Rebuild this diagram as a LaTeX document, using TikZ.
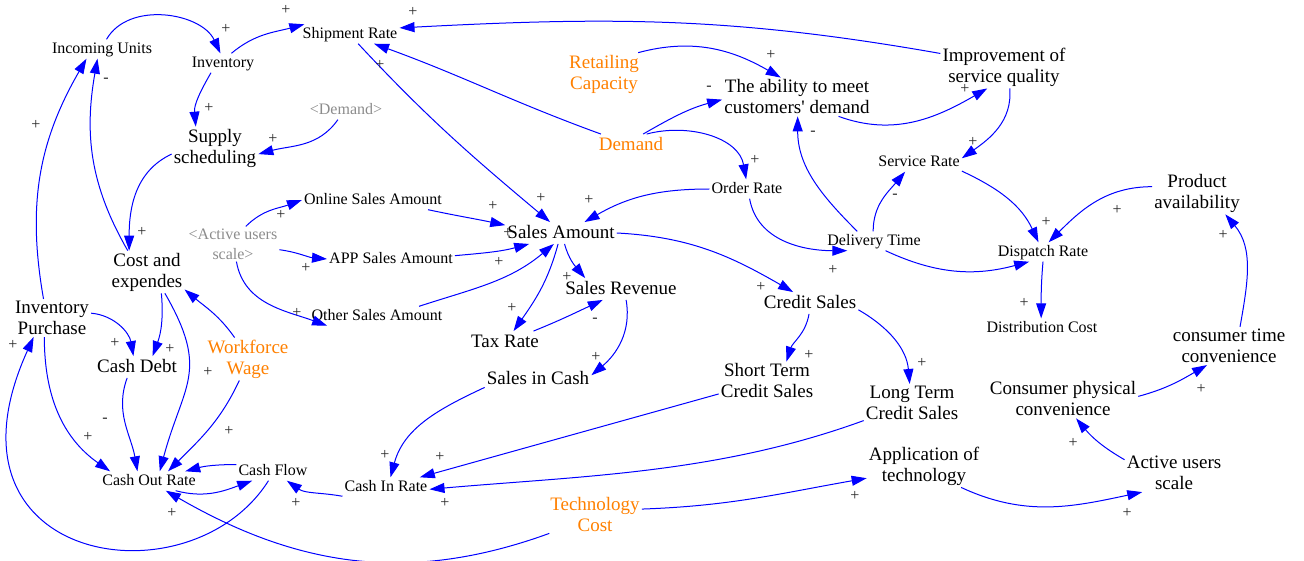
\documentclass[tikz,border=0pt]{standalone}
\usepackage{fontspec}
\setmainfont{Liberation Serif}
\usetikzlibrary{arrows.meta}
\definecolor{linkblue}{RGB}{0,0,255}
\definecolor{exocol}{RGB}{255,128,0}
\definecolor{shadowcol}{RGB}{140,140,140}
\definecolor{signcol}{RGB}{40,40,40}

\begin{document}
\begin{tikzpicture}[x=1pt,y=1pt,
  fs/.style={font=\fontsize{16}{20}\selectfont},
  fl/.style={font=\fontsize{19}{21}\selectfont},
  ones/.style={fs,inner sep=2pt,text height=12pt,text depth=3pt},
  onel/.style={fl,inner sep=2pt,text height=14pt,text depth=3.5pt},
  twos/.style={fs,inner sep=2pt,align=center},
  twol/.style={fl,inner sep=2pt,align=center},
  exo/.style={text=exocol},
  shadowvar/.style={text=shadowcol},
  link/.style={draw=linkblue,line width=1pt,-{Triangle[length=15pt,width=10pt]}},
  pol/.style={font=\fontsize{16}{16}\selectfont,text=signcol,inner sep=0pt}
]
\useasboundingbox (0,0) rectangle (1304,-561);

% ---------- variables ----------
\node[ones] (inc) at (102,-49) {Incoming Units};
\node[ones] (inv) at (223,-63) {Inventory};
\node[ones] (ship) at (350,-34) {Shipment Rate};
\node[ones,shadowvar] (dem2) at (346,-110) {<Demand>};
\node[twol] (sup) at (215,-148) {Supply\\scheduling};
\node[twol,exo] (ret) at (604,-74) {Retailing\\Capacity};
\node[twol] (abil) at (797,-97) {The ability to meet\\customers\textquotesingle{} demand};
\node[twol] (imp) at (1004,-67) {Improvement of\\service quality};
\node[onel,exo] (dem) at (631,-145) {Demand};
\node[ones] (serv) at (919,-162) {Service Rate};
\node[ones] (ord) at (747,-189) {Order Rate};
\node[twol] (prod) at (1197,-193) {Product\\availability};
\node[ones] (online) at (373,-200) {Online Sales Amount};
\node[twos,shadowvar] (act2) at (233,-244) {<Active users\\scale>};
\node[onel] (sa) at (561,-233) {Sales Amount};
\node[ones] (dt) at (874,-241) {Delivery Time};
\node[ones] (disp) at (1043,-252) {Dispatch Rate};
\node[twol] (cost) at (147,-272) {Cost and\\expendes};
\node[ones] (app) at (391,-259) {APP Sales Amount};
\node[onel] (srev) at (621,-289) {Sales Revenue};
\node[onel] (cs) at (810,-303) {Credit Sales};
\node[twol] (ip) at (52,-318) {Inventory\\Purchase};
\node[ones] (other) at (377,-316) {Other Sales Amount};
\node[ones] (dc) at (1042,-328) {Distribution Cost};
\node[twol] (ctc) at (1229,-346) {consumer time\\convenience};
\node[onel] (tax) at (505,-342) {Tax Rate};
\node[twol,exo] (ww) at (248,-359) {Workforce\\Wage};
\node[onel] (cd) at (137,-367) {Cash Debt};
\node[twol] (st) at (767,-381) {Short Term\\Credit Sales};
\node[twol] (lt) at (912,-403) {Long Term\\Credit Sales};
\node[onel] (sic) at (538,-379) {Sales in Cash};
\node[twol] (cpc) at (1063,-399) {Consumer physical\\convenience};
\node[twol] (aot) at (924,-466) {Application of\\technology};
\node[twol] (aus) at (1174,-473) {Active users\\scale};
\node[ones] (cf) at (273,-471) {Cash Flow};
\node[ones] (cor) at (149,-481) {Cash Out Rate};
\node[ones] (cir) at (386,-487) {Cash In Rate};
\node[twol,exo] (tc) at (595,-514) {Technology\\Cost};

% ---------- causal links ----------
\draw[link] (inc.65) to[out=60,in=115] (inv.105);
\draw[link] (inv.49) to[out=40,in=195] (ship.168);
\draw[link] (inv.219) to[out=240,in=95] (sup.132);
\draw[link] (dem2.230) to[out=235,in=15] (sup.-8);
\draw[link] (imp.168) to[out=170,in=3] (ship.7);
\draw[link] (dem.160) to[out=160,in=-20] (ship.-22);
\draw[link] (ship.-50) to[out=-47,in=140] (sa.135);
\draw[link] (ret.32) to[out=15,in=150] (abil.130);
\draw[link] (dem.42) to[out=30,in=195] (abil.182);
\draw[link] (dem.35) to[out=15,in=100] (ord.95);
\draw[link] (abil.-25) to[out=-20,in=210] (imp.232);
\draw[link] (imp.-75) to[out=-85,in=35] (serv.5);
\draw[link] (dt.150) to[out=135,in=-90] (abil.-88);
\draw[link] (dt.95) to[out=90,in=230] (serv.215);
\draw[link] (ord.-75) to[out=-80,in=180] (dt.200);
\draw[link] (ord.180) to[out=180,in=30] (sa.25);
\draw[link] (serv.-12) to[out=-25,in=115] (disp.115);
\draw[link] (prod.172) to[out=180,in=45] (disp.60);
\draw[link] (dt.-40) to[out=-25,in=195] (disp.215);
\draw[link] (disp.-90) to[out=-95,in=90] (dc.95);
\draw[link] (ctc.60) to[out=80,in=-50] (prod.-37);
\draw[link] (cpc.2) to[out=15,in=210] (ctc.221);
\draw[link] (aus.165) to[out=150,in=-50] (cpc.-56);
\draw[link] (aot.-30) to[out=-25,in=192] (aus.211);
\draw[link] (tc.6) to[out=2,in=190] (aot.192);
\draw[link] (tc.203) to[out=200,in=-30] (cor.-30);
\draw[link] (lt.200) to[out=200,in=5,looseness=0.9] (cir.-3);
\draw[link] (st.195) -- (cir.16);
\draw[link] (sic.189) to[out=205,in=75] (cir.65);
\draw[link] (cir.192) to[out=170,in=-35] (cf.-35);
\draw[link] (cf.170) to[out=180,in=15] (cor.15);
\draw[link] (cor.-20) to[out=-15,in=200] (cf.205);
\draw[link] (cf.245) .. controls (190,-605) and (-70,-565) .. (ip.226);
\draw[link] (ip.114) to[out=100,in=240] (inc.212);
\draw[link] (cost.132) to[out=120,in=260] (inc.245);
\draw[link] (sup.188) to[out=205,in=90] (cost.130);
\draw[link] (act2.54) to[out=45,in=200] (online.180);
\draw[link] (act2.-7) to[out=-8,in=175] (app.180);
\draw[link] (act2.-79) to[out=-80,in=160] (other.191);
\draw[link] (online.-10) to[out=-12,in=168] (sa.172);
\draw[link] (app.3) to[out=5,in=195] (sa.199);
\draw[link] (other.13) to[out=18,in=220] (sa.237);
\draw[link] (sa.255) to[out=-105,in=55] (tax.52);
\draw[link] (sa.-72) to[out=-75,in=130] (srev.163);
\draw[link] (tax.21) to[out=22,in=205] (srev.211);
\draw[link] (srev.-65) to[out=-80,in=40] (sic.4);
\draw[link] (sa.0) to[out=-3,in=150] (cs.147);
\draw[link] (cs.265) to[out=-100,in=72] (st.45);
\draw[link] (cs.-8) to[out=-30,in=95] (lt.97);
\draw[link] (ip.7) to[out=-5,in=100] (cd.108);
\draw[link] (cost.-56) to[out=-85,in=70] (cd.35);
\draw[link] (cost.-50) to[out=-60,in=75,looseness=1.3] (cor.42);
\draw[link] (ww.122) to[out=125,in=-40] (cost.-25);
\draw[link] (ww.248) to[out=-115,in=45] (cor.27);
\draw[link] (cd.228) to[out=-110,in=100] (cor.140);
\draw[link] (ip.248) to[out=-90,in=145] (cor.166);

% ---------- link polarities ----------
\node[pol] (p1) at (226,-29) {+};
\node[pol] (p2) at (286,-10) {+};
\node[pol] (p3) at (209,-108) {+};
\node[pol] (p4) at (273,-139) {+};
\node[pol] (p5) at (413,-12) {+};
\node[pol] (p6) at (380,-65) {+};
\node[pol] (p7) at (541,-198) {+};
\node[pol] (p8) at (771,-55) {+};
\node[pol] (p9) at (709,-88) {-};
\node[pol] (p10) at (755,-160) {+};
\node[pol] (p11) at (965,-89) {+};
\node[pol] (p12) at (973,-142) {+};
\node[pol] (p13) at (813,-133) {-};
\node[pol] (p14) at (895,-196) {-};
\node[pol] (p15) at (833,-270) {+};
\node[pol] (p16) at (589,-200) {+};
\node[pol] (p17) at (1046,-222) {+};
\node[pol] (p18) at (1117,-210) {+};
\node[pol] (p19) at (1003,-257) {-};
\node[pol] (p20) at (1024,-303) {+};
\node[pol] (p21) at (1223,-235) {+};
\node[pol] (p22) at (1201,-389) {+};
\node[pol] (p23) at (1073,-443) {+};
\node[pol] (p24) at (1127,-513) {+};
\node[pol] (p25) at (855,-496) {+};
\node[pol] (p26) at (172,-513) {+};
\node[pol] (p27) at (445,-503) {+};
\node[pol] (p28) at (440,-457) {+};
\node[pol] (p29) at (385,-455) {+};
\node[pol] (p30) at (296,-503) {+};
\node[pol] (p33) at (13,-345) {+};
\node[pol] (p34) at (36,-125) {+};
\node[pol] (p35) at (106,-80) {-};
\node[pol] (p36) at (142,-232) {+};
\node[pol] (p37) at (281,-215) {+};
\node[pol] (p38) at (306,-268) {+};
\node[pol] (p39) at (297,-313) {+};
\node[pol] (p40) at (493,-206) {+};
\node[pol] (p41) at (508,-233) {+};
\node[pol] (p42) at (499,-262) {+};
\node[pol] (p43) at (512,-308) {+};
\node[pol] (p44) at (567,-277) {+};
\node[pol] (p45) at (595,-320) {-};
\node[pol] (p46) at (596,-357) {+};
\node[pol] (p47) at (761,-287) {+};
\node[pol] (p48) at (809,-355) {+};
\node[pol] (p49) at (922,-363) {+};
\node[pol] (p50) at (115,-343) {+};
\node[pol] (p51) at (170,-349) {+};
\node[pol] (p52) at (208,-372) {+};
\node[pol] (p54) at (229,-431) {+};
\node[pol] (p55) at (105,-420) {-};
\node[pol] (p56) at (88,-437) {+};
\end{tikzpicture}
\end{document}
